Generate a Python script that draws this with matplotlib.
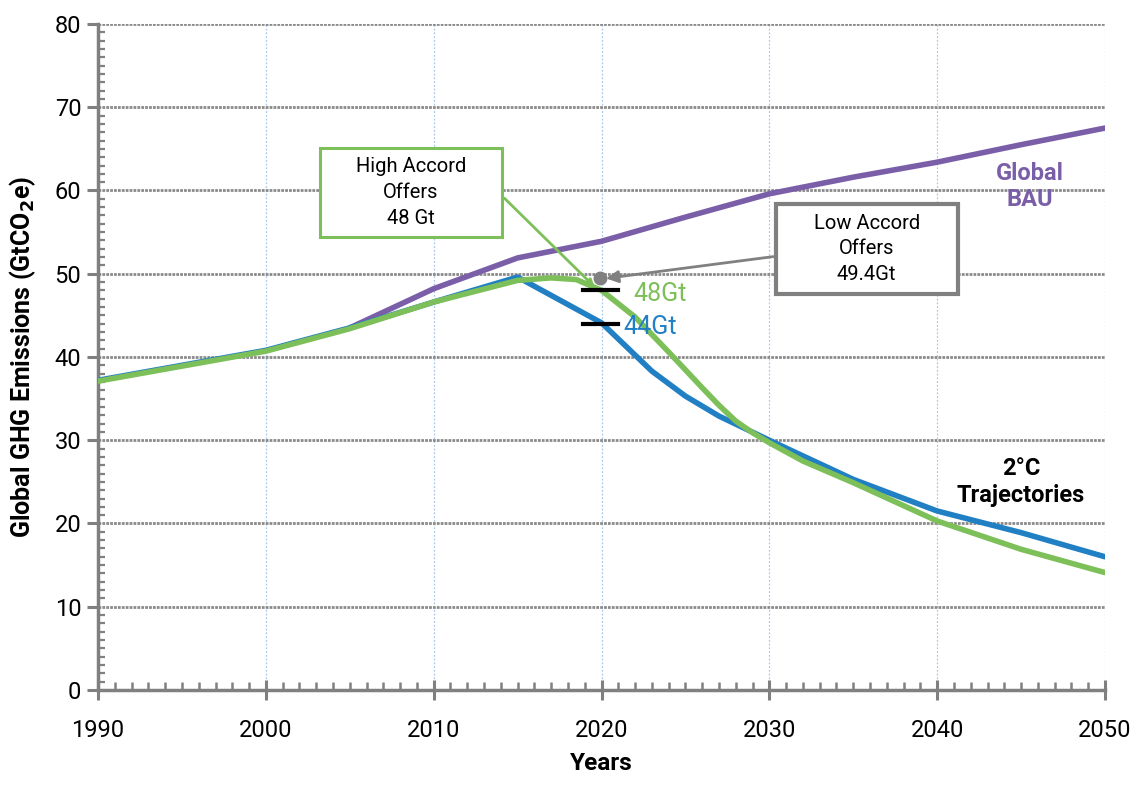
import matplotlib
matplotlib.use("Agg")
import matplotlib.pyplot as plt
from matplotlib.patches import Rectangle
from matplotlib.ticker import MultipleLocator

plt.rcParams["font.family"] = ["Roboto", "DejaVu Sans"]

PURPLE, BLUE, GREEN, GRAY = "#7b5ea8", "#2180c3", "#7dbf58", "#808080"

bau_years = [2005, 2010, 2015, 2020, 2025, 2030, 2035, 2040, 2045, 2050]
bau_vals = [43.5, 48.2, 51.9, 53.9, 56.8, 59.6, 61.6, 63.4, 65.5, 67.5]

blue_years = [1990, 1995, 2000, 2005, 2010, 2015, 2020, 2023, 2025, 2027, 2030,
              2035, 2040, 2045, 2050]
blue_vals = [37.2, 39.0, 40.8, 43.5, 46.6, 49.6, 44.1, 38.3, 35.3, 32.9, 30.0,
             25.3, 21.5, 18.9, 16.0]

green_years = [1990, 1995, 2000, 2005, 2010, 2015, 2017, 2018.5, 2020, 2022, 2024,
               2026, 2027, 2028, 2029, 2030, 2032, 2035, 2040, 2045, 2050]
green_vals = [37.1, 38.9, 40.7, 43.4, 46.6, 49.2, 49.5, 49.3, 48.0, 44.8, 40.6,
              36.3, 34.2, 32.3, 30.9, 29.7, 27.5, 24.9, 20.3, 16.9, 14.1]

marks = [48, 44]          # 2020 offer levels
low_offer = 49.4

fig = plt.figure(figsize=(11.36, 7.89), dpi=100)
ax = fig.add_axes([0.0863, 0.1255, 0.8864, 0.8441])

ax.plot(bau_years, bau_vals, color=PURPLE, lw=4, solid_capstyle="round", zorder=4)
ax.plot(blue_years, blue_vals, color=BLUE, lw=4, solid_capstyle="round", zorder=4)
ax.plot(green_years, green_vals, color=GREEN, lw=4, solid_capstyle="round", zorder=5)

for m in marks:
    ax.plot([2018.9, 2021.0], [m, m], color="black", lw=3, zorder=6)
ax.text(2021.9, 47.6, "48Gt", color=GREEN, fontsize=18, va="center", ha="left", zorder=7)
ax.text(2021.3, 43.6, "44Gt", color=BLUE, fontsize=18, va="center", ha="left", zorder=7)

# callout boxes
ax.add_patch(Rectangle((2003.2, 54.4), 10.9, 10.7, fill=True, facecolor="white",
                       edgecolor=GREEN, lw=2.2, zorder=8))
ax.text(2008.65, 59.75, "High Accord\nOffers\n48 Gt", ha="center", va="center",
        fontsize=14.5, linespacing=1.45, zorder=9)
ax.annotate("", xy=(2019.7, 48.2), xytext=(2014.1, 59.3),
            arrowprops=dict(arrowstyle="-|>", color=GREEN, lw=2, mutation_scale=10),
            zorder=7)

ax.add_patch(Rectangle((2030.4, 47.6), 10.85, 10.8, fill=True, facecolor="white",
                       edgecolor=GRAY, lw=3, zorder=8))
ax.text(2035.8, 53.0, "Low Accord\nOffers\n49.4Gt", ha="center", va="center",
        fontsize=14.5, linespacing=1.45, zorder=9)
ax.annotate("", xy=(2020.1, low_offer), xytext=(2030.4, 52.1),
            arrowprops=dict(arrowstyle="-|>", color=GRAY, lw=2, mutation_scale=18),
            zorder=7)
ax.plot([2019.9], [low_offer + 0.1], "o", color=GRAY, ms=9, zorder=7)

ax.text(2045.5, 60.5, "Global\nBAU", color=PURPLE, fontsize=17, fontweight="bold",
        ha="center", va="center", linespacing=1.2)
ax.text(2045.0, 25.0, "2°C\nTrajectories", color="black", fontsize=17, fontweight="bold",
        ha="center", va="center", linespacing=1.25)

ax.set_xlim(1990, 2050)
ax.set_ylim(0, 80)
ax.xaxis.set_major_locator(MultipleLocator(10))
ax.xaxis.set_minor_locator(MultipleLocator(1))
ax.yaxis.set_major_locator(MultipleLocator(10))
ax.yaxis.set_minor_locator(MultipleLocator(1))

for s in ["top", "right"]:
    ax.spines[s].set_visible(False)
for s in ["left", "bottom"]:
    ax.spines[s].set_color(GRAY)
    ax.spines[s].set_linewidth(2.5)

ax.tick_params(axis="x", which="major", direction="inout", length=14, width=2.2,
               color=GRAY, labelsize=17, pad=14)
ax.tick_params(axis="x", which="minor", direction="in", length=6, width=1.8, color=GRAY)
ax.tick_params(axis="y", which="major", direction="out", length=8, width=2.2,
               color=GRAY, labelsize=17, pad=4)
ax.tick_params(axis="y", which="minor", direction="in", length=5, width=1.6, color=GRAY)

ax.grid(axis="y", which="major", color="#8a8a8a", lw=2, ls=(0, (1, 0.4)), zorder=1)
ax.grid(axis="x", which="major", color="#a8c8ea", lw=0.9, ls=(0, (1.5, 1.5)), zorder=1)
ax.set_axisbelow(True)

ax.set_xlabel("Years", fontsize=17.5, fontweight="bold", labelpad=7)
ax.set_ylabel("Global GHG Emissions (GtCO$_\\mathbf{2}$e)", fontsize=18,
              fontweight="bold", labelpad=12)

fig.savefig("out.png", dpi=100)
